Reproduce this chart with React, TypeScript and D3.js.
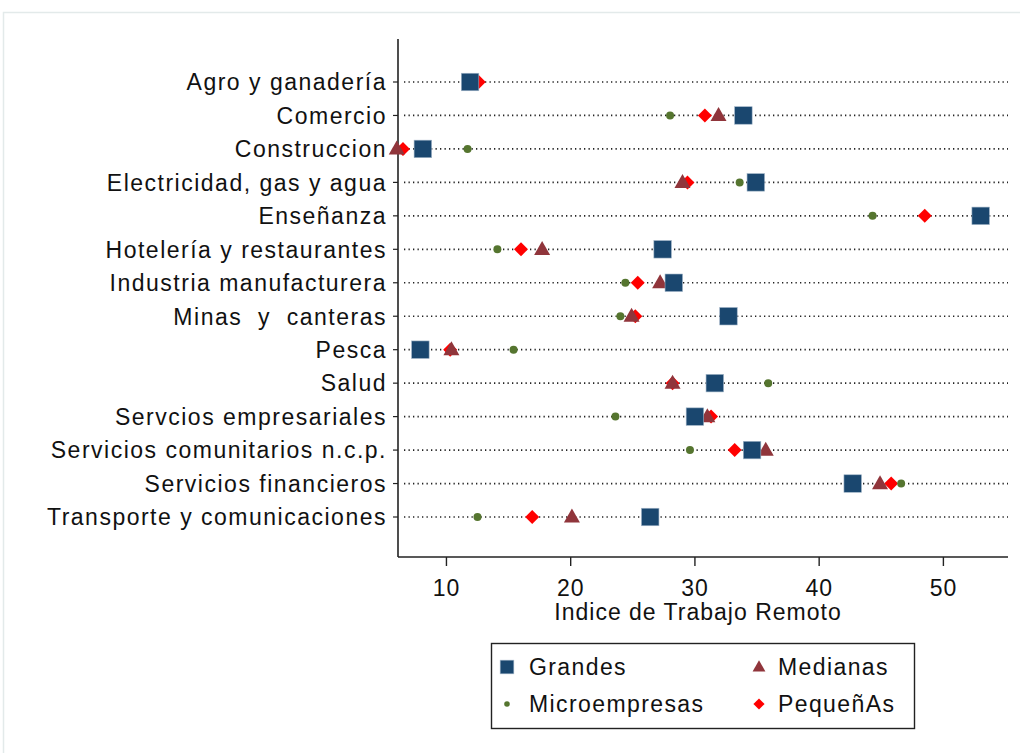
import React from "react";
import * as d3 from "d3";

const categories = [
  "Agro y ganadería",
  "Comercio",
  "Construccion",
  "Electricidad, gas y agua",
  "Enseñanza",
  "Hotelería y restaurantes",
  "Industria manufacturera",
  "Minas  y  canteras",
  "Pesca",
  "Salud",
  "Servcios empresariales",
  "Servicios comunitarios n.c.p.",
  "Servicios financieros",
  "Transporte y comunicaciones",
];

const grandes = [11.9, 33.9, 8.1, 34.9, 53.0, 27.4, 28.3, 32.7, 7.9, 31.6, 30.0, 34.6, 42.7, 26.4];
const medianas = [12.0, 31.9, 6.0, 29.0, null, 17.7, 27.2, 24.9, 10.4, 28.2, 31.0, 35.7, 44.9, 20.1];
const micro = [11.6, 28.0, 11.7, 33.6, 44.3, 14.1, 24.4, 24.0, 15.4, 35.9, 23.6, 29.6, 46.6, 12.5];
const pequenas = [12.6, 30.8, 6.5, 29.4, 48.5, 16.0, 25.4, 25.2, 10.3, 28.2, 31.3, 33.2, 45.8, 16.9];

const xTicks = [10, 20, 30, 40, 50];
const xTitle = "Indice de Trabajo Remoto";
const legendNames = ["Grandes", "Medianas", "Microempresas", "PequeñAs"];

const COLORS: Record<string, string> = {
  Grandes: "#1a476f",
  Medianas: "#90353b",
  Microempresas: "#55752f",
  PequeñAs: "#ff0000",
};

const FONT = "'Liberation Sans', Arial, sans-serif";

function Marker({ type, x, y, scale = 1 }: { type: string; x: number; y: number; scale?: number }) {
  const c = COLORS[type];
  if (type === "Grandes") {
    const s = 17.5 * scale;
    return <rect x={x - s / 2} y={y - s / 2} width={s} height={s} fill={c} stroke="#9fb3c6" strokeWidth={0.6} />;
  }
  if (type === "Medianas") {
    const w = 16 * scale, h = 14 * scale;
    return <path d={`M${x},${y - h * 0.6} L${x + w / 2},${y + h * 0.4} L${x - w / 2},${y + h * 0.4} Z`} fill={c} />;
  }
  if (type === "Microempresas") {
    return <circle cx={x} cy={y} r={4 * scale} fill={c} />;
  }
  const r = 7 * scale;
  return <path d={`M${x},${y - r} L${x + r},${y} L${x},${y + r} L${x - r},${y} Z`} fill={c} />;
}

export default function App() {
  const x = d3.scaleLinear().domain([6.1, 55.2]).range([398, 1008]);
  const y = d3.scalePoint<string>().domain(categories).range([82, 517]);
  const axisX0 = 398, axisX1 = 1008, axisY0 = 39, axisY1 = 557;

  // drawing order (later on top)
  const series: [string, (number | null)[]][] = [
    ["PequeñAs", pequenas],
    ["Medianas", medianas],
    ["Microempresas", micro],
    ["Grandes", grandes],
  ];

  const legendPos: [number, number, number][] = [
    [507, 667, 529],
    [759, 667, 778],
    [507, 704, 529],
    [759, 704, 778],
  ];

  return (
    <svg width={1020} height={753} style={{ position: "absolute", left: 0, top: 0, background: "#fff" }}>
      <rect x={3.5} y={12.5} width={1030} height={760} fill="#fff" stroke="#e3eaea" strokeWidth={1.5} />
      {categories.map((c) => (
        <line key={"g" + c} x1={404} x2={1008} y1={y(c)} y2={y(c)} stroke="#222" strokeWidth={1.7} strokeDasharray="1.3,3.2" />
      ))}
      <line x1={axisX0} x2={axisX0} y1={axisY0} y2={axisY1} stroke="#222" strokeWidth={1.6} />
      <line x1={axisX0} x2={axisX1} y1={axisY1} y2={axisY1} stroke="#222" strokeWidth={1.6} />
      {categories.map((c) => (
        <g key={"l" + c}>
          <line x1={393} x2={398} y1={y(c)} y2={y(c)} stroke="#222" strokeWidth={1.2} />
          <text x={387} y={y(c)} dy="0.36em" textAnchor="end" fontFamily={FONT} fontSize={23} letterSpacing={1.5} fill="#111" style={{ whiteSpace: "pre" }}>
            {c}
          </text>
        </g>
      ))}
      {xTicks.map((t) => (
        <g key={"t" + t}>
          <line x1={x(t)} x2={x(t)} y1={axisY1} y2={axisY1 + 9} stroke="#222" strokeWidth={1.4} />
          <text x={x(t)} y={596} textAnchor="middle" fontFamily={FONT} fontSize={23} letterSpacing={0.8} fill="#111">
            {t}
          </text>
        </g>
      ))}
      <text x={(axisX0 + axisX1) / 2 - 5} y={620} textAnchor="middle" fontFamily={FONT} fontSize={23} letterSpacing={1} fill="#111">
        {xTitle}
      </text>
      {series.map(([name, vals]) => (
        <g key={name}>
          {vals.map((v, i) =>
            v == null ? null : <Marker key={i} type={name} x={x(v)} y={y(categories[i]) as number} />
          )}
        </g>
      ))}
      <rect x={491.5} y={643.5} width={423} height={85} fill="#fff" stroke="#222" strokeWidth={1.4} />
      {legendNames.map((name, i) => {
        const [mx, my, tx] = legendPos[i];
        return (
          <g key={"lg" + name}>
            <Marker type={name} x={mx} y={my} scale={name === "Grandes" ? 0.78 : name === "Microempresas" ? 0.7 : 0.8} />
            <text x={tx} y={my} dy="0.36em" fontFamily={FONT} fontSize={23} letterSpacing={1.4} fill="#111">
              {name}
            </text>
          </g>
        );
      })}
    </svg>
  );
}
